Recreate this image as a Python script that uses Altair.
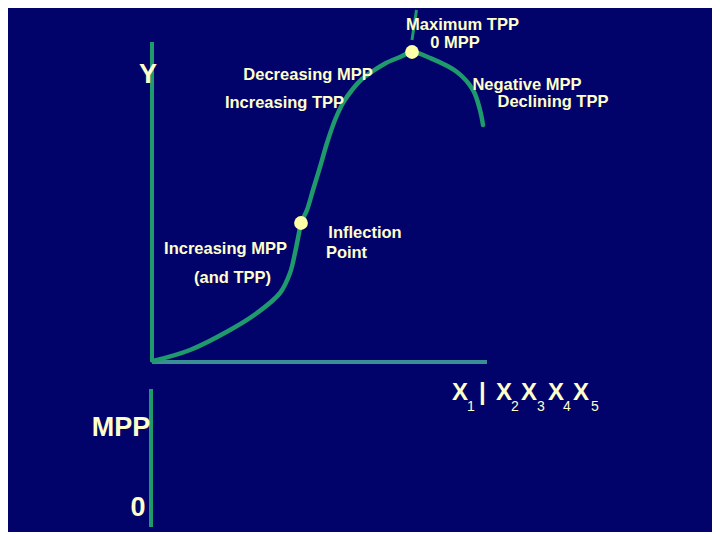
import altair as alt
import pandas as pd

# ---- data (units: input X to the right of origin, TPP above origin) ----
curve_x = [1, 38, 78, 105, 128, 138, 143, 147, 149, 155, 161, 168, 175, 183,
           191, 200, 210, 221, 234, 248, 260, 278, 305, 321, 328, 331]
curve_tpp = [1, 12, 32, 49, 69, 89, 109, 129, 139, 152, 172, 195, 219, 242,
             259, 272, 283, 291, 299, 305, 310, 304, 290, 272, 252, 237]

# key points: inflection point and maximum TPP
key_x = [149, 260]
key_tpp = [139, 310]

# axes segments
seg_id = ["yaxis", "yaxis", "xaxis", "xaxis", "mppaxis", "mppaxis", "arrow", "arrow"]
seg_x = [0, 0, 0, 335, -1, -1, 264.5, 260]
seg_y = [0, 320, 0, 0, -27, -165, 352, 322]
seg_color = ["#1F9A6C", "#1F9A6C", "#3A8F95", "#3A8F95",
             "#1F9A6C", "#1F9A6C", "#1F9A6C", "#1F9A6C"]
seg_width = [4, 4, 4, 4, 4, 4, 3, 3]

# annotation labels
ann_text = ["Maximum TPP", "0 MPP", "Negative MPP", "Declining TPP",
            "Decreasing MPP", "Increasing TPP", "Increasing MPP", "(and TPP)",
            "Inflection", "Point"]
ann_x = [310.5, 303, 375, 401, 156, 132.5, 73.5, 80.5, 213, 194.5]
ann_y = [337, 319, 277, 260, 287, 259, 113, 84, 129, 109]

big_text = ["Y", "MPP", "0"]
big_x = [-4, -31, -14]
big_y = [287, -66, -146]

xlab_text = ["X", "|", "X", "X", "X", "X"]
xlab_x = [300, 327, 344, 369, 396, 421]
sub_text = ["1", "2", "3", "4", "5"]
sub_x = [315, 359, 385, 411, 439]

BG = "#02036A"
GREEN = "#1F9A6C"
CREAM = "#FFFFCC"
DOT = "#FFFFA8"
FONT = "Liberation Sans"

xs = alt.Scale(domain=[-144, 560], nice=False, zero=False)
ys = alt.Scale(domain=[-170, 354], nice=False, zero=False)

curve_df = pd.DataFrame({"x": curve_x, "tpp": curve_tpp})
key_df = pd.DataFrame({"x": key_x, "tpp": key_tpp})
seg_df = pd.DataFrame({"id": seg_id, "x": seg_x, "y": seg_y,
                       "c": seg_color, "w": seg_width})
ann_df = pd.DataFrame({"t": ann_text, "x": ann_x, "y": ann_y})
big_df = pd.DataFrame({"t": big_text, "x": big_x, "y": big_y})
xlab_df = pd.DataFrame({"t": xlab_text, "x": xlab_x, "y": [-30.5] * len(xlab_x)})
sub_df = pd.DataFrame({"t": sub_text, "x": sub_x, "y": [-44.5] * len(sub_x)})

X = lambda f="x": alt.X(f"{f}:Q", scale=xs, axis=None)
Y = lambda f="y": alt.Y(f"{f}:Q", scale=ys, axis=None)

segs = alt.Chart(seg_df).mark_line(strokeCap="butt").encode(
    x=X(), y=Y(), detail="id:N",
    color=alt.Color("c:N", scale=None),
    strokeWidth=alt.StrokeWidth("w:Q", scale=None),
)

curve = alt.Chart(curve_df).mark_line(
    color=GREEN, strokeWidth=4.5, interpolate="catmull-rom", strokeCap="round"
).encode(x=X(), y=Y("tpp"), order="x:Q")

dots = alt.Chart(key_df).mark_circle(color=DOT, opacity=1, size=190).encode(
    x=X(), y=Y("tpp"))

ann = alt.Chart(ann_df).mark_text(
    font=FONT, fontSize=16.5, fontWeight="bold", color=CREAM,
    align="center", baseline="middle"
).encode(x=X(), y=Y(), text="t:N")

big = alt.Chart(big_df).mark_text(
    font=FONT, fontSize=27, fontWeight="bold", color=CREAM,
    align="center", baseline="middle"
).encode(x=X(), y=Y(), text="t:N")

xlab = alt.Chart(xlab_df).mark_text(
    font=FONT, fontSize=24, fontWeight="bold", color=CREAM,
    align="left", baseline="middle"
).encode(x=X(), y=Y(), text="t:N")

subs = alt.Chart(sub_df).mark_text(
    font=FONT, fontSize=14, color=CREAM, align="left", baseline="middle"
).encode(x=X(), y=Y(), text="t:N")

chart = alt.layer(segs, curve, dots, ann, big, xlab, subs).properties(
    width=704, height=524, padding=0,
    autosize=alt.AutoSizeParams(type="none"),
    background=BG,
).configure_view(stroke=None)

chart.save("out.html", embed_options={"renderer": "svg", "actions": False})
